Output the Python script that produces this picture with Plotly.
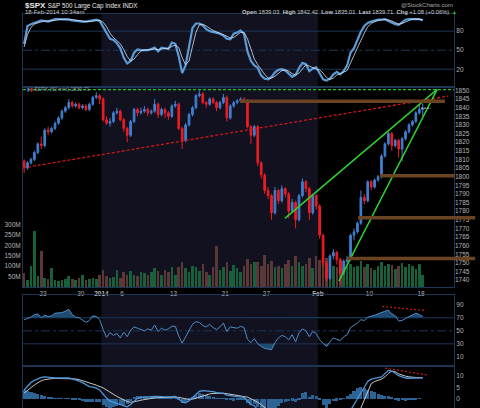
import plotly.graph_objects as go

# 60-min style chart of $SPX, Dec 19 2013 .. Feb 18 2014 10:34am
# bars are session thirds (Dec 24 half day has two), index 0..116
first_open = 1809
closes = [1805, 1808, 1810, 1814, 1819, 1818, 1827, 1826, 1828, 1831,
          1834, 1838, 1840, 1843, 1841, 1842, 1840, 1841, 1839, 1842,
          1846, 1847, 1845, 1833, 1831, 1832, 1837, 1838, 1833, 1828,
          1824, 1832, 1839, 1837, 1838, 1839, 1837, 1838, 1842, 1836,
          1839, 1837, 1835, 1841, 1842, 1828, 1821, 1830, 1836, 1840,
          1847, 1848, 1843, 1842, 1845, 1843, 1840, 1843, 1846, 1834,
          1841, 1843, 1844, 1845, 1844, 1829, 1824, 1829, 1808, 1801,
          1792, 1789, 1779, 1792, 1786, 1793, 1790, 1780, 1785, 1775,
          1789, 1797, 1793, 1779, 1789, 1783, 1766, 1750, 1741, 1754,
          1756, 1752, 1744, 1751, 1752, 1766, 1768, 1773, 1788, 1786,
          1797, 1794, 1798, 1800, 1812, 1819, 1825, 1818, 1821, 1816,
          1822, 1826, 1830, 1832, 1837, 1839, 1839.71]
highs = [1810, 1809, 1811, 1815, 1820, 1823, 1828, 1829, 1829, 1832,
         1835, 1839, 1841, 1845, 1844, 1843, 1843, 1842, 1842, 1843,
         1847, 1849, 1848, 1846, 1835, 1834, 1838, 1840, 1839, 1834,
         1829, 1833, 1840, 1840, 1840, 1841, 1840, 1839, 1845, 1843,
         1840, 1840, 1838, 1842, 1844, 1843, 1829, 1831, 1837, 1841,
         1848, 1850, 1849, 1844, 1846, 1846, 1844, 1844, 1848, 1847,
         1842, 1844, 1845, 1846, 1846, 1845, 1830, 1830, 1830, 1809,
         1802, 1794, 1790, 1794, 1793, 1795, 1794, 1791, 1787, 1786,
         1790, 1799, 1798, 1794, 1790, 1790, 1784, 1767, 1751, 1755,
         1758, 1757, 1753, 1752, 1754, 1767, 1770, 1774, 1792, 1790,
         1798, 1798, 1799, 1801, 1813, 1820, 1826, 1826, 1822, 1822,
         1823, 1827, 1831, 1833, 1838, 1842, 1842.42]
lows = [1802, 1804, 1807, 1809, 1813, 1816, 1817, 1824, 1825, 1827,
        1830, 1833, 1837, 1839, 1840, 1840, 1839, 1839, 1838, 1838,
        1841, 1845, 1842, 1832, 1830, 1829, 1831, 1836, 1832, 1826,
        1820, 1823, 1831, 1835, 1836, 1837, 1835, 1836, 1837, 1834,
        1835, 1834, 1833, 1834, 1840, 1827, 1816, 1820, 1829, 1835,
        1839, 1846, 1842, 1840, 1841, 1842, 1838, 1839, 1842, 1832,
        1833, 1840, 1842, 1843, 1843, 1828, 1819, 1823, 1806, 1799,
        1790, 1787, 1775, 1778, 1784, 1785, 1788, 1776, 1779, 1770,
        1774, 1788, 1791, 1775, 1778, 1781, 1764, 1748, 1739, 1740,
        1752, 1749, 1738, 1743, 1749, 1751, 1763, 1767, 1772, 1784,
        1785, 1792, 1793, 1797, 1799, 1811, 1818, 1815, 1817, 1811,
        1809, 1821, 1825, 1829, 1831, 1836, 1835.01]
volumes_m = [65, 35, 100, 270, 55, 175, 45, 40, 90, 35,
             30, 35, 40, 55, 40, 35, 45, 58, 35, 40,
             45, 40, 60, 80, 55, 45, 50, 80, 45, 70,
             60, 75, 60, 55, 70, 65, 60, 70, 90, 75,
             60, 80, 70, 95, 60, 95, 120, 90, 70, 100,
             95, 75, 110, 70, 60, 95, 195, 80, 95, 120,
             75, 105, 90, 70, 100, 135, 110, 120, 120, 100,
             155, 110, 125, 95, 100, 90, 110, 130, 100, 147,
             120, 100, 110, 140, 90, 150, 130, 125, 140, 140,
             100, 95, 130, 90, 105, 110, 95, 100, 125, 95,
             110, 90, 80, 100, 120, 100, 110, 105, 85, 100,
             115, 95, 110, 100, 85, 110, 60]

stoch_k = [60, 88, 91, 93, 95, 97, 96, 95, 97, 99,
           99, 99, 99, 98, 97, 96, 95, 95, 95, 96,
           98, 98, 96, 87, 77, 68, 66, 61, 53, 38,
           29, 33, 46, 51, 50, 50, 50, 52, 54, 48,
           54, 53, 52, 62, 60, 40, 14, 26, 58, 85,
           92, 92, 89, 83, 80, 79, 77, 76, 73, 68,
           67, 76, 78, 81, 76, 48, 33, 26, 22, 10,
           5, 4, 8, 15, 19, 20, 18, 13, 8, 11,
           22, 30, 28, 17, 21, 23, 14, 4, 2, 5,
           12, 16, 12, 17, 26, 46, 53, 65, 79, 88,
           93, 95, 97, 98, 98, 99, 96, 93, 91, 90,
           94, 98, 99, 99, 99, 99, 97]
stoch_d = [55, 75, 86, 91, 93, 95, 96, 96, 96, 97,
           98, 99, 99, 99, 98, 97, 96, 95, 95, 95,
           96, 97, 97, 94, 87, 77, 70, 65, 60, 51,
           40, 33, 36, 43, 49, 50, 50, 51, 52, 51,
           52, 52, 53, 56, 58, 54, 38, 27, 33, 56,
           78, 90, 91, 88, 84, 81, 79, 77, 75, 72,
           69, 70, 74, 78, 78, 68, 52, 36, 27, 19,
           12, 6, 6, 9, 14, 18, 19, 17, 13, 11,
           14, 21, 27, 25, 22, 20, 19, 14, 7, 4,
           6, 11, 13, 15, 18, 30, 42, 55, 66, 77,
           87, 92, 95, 97, 98, 98, 98, 96, 93, 91,
           92, 94, 97, 99, 99, 99, 98]

rsi = [67, 69, 71, 75, 76, 70, 74, 72, 73, 77,
       77, 78, 80, 83, 75, 71, 70, 67, 63, 66,
       73, 72, 67, 52, 40, 47, 43, 46, 39, 48,
       41, 51, 56, 54, 52, 50, 53, 51, 59, 49,
       54, 51, 53, 57, 57, 42, 31, 40, 51, 60,
       64, 63, 58, 56, 60, 55, 52, 56, 62, 49,
       56, 55, 54, 57, 55, 37, 32, 38, 30, 26,
       23, 22, 21, 32, 39, 43, 41, 36, 44, 33,
       47, 53, 50, 41, 49, 46, 36, 31, 26, 33,
       39, 37, 35, 41, 44, 55, 58, 62, 67, 66,
       71, 72, 74, 76, 78, 80, 82, 76, 73, 65,
       66, 69, 72, 74, 77, 75, 72]

macd = [3.8, 5.5, 7, 8, 8.8, 9.3, 9.5, 9.5, 9.2, 9,
        9, 9, 9, 9, 8.6, 8.2, 7.6, 7, 6, 5.3,
        5, 4.6, 3.8, 2, 0.3, -1, -1.5, -2, -2.5, -3,
        -3.5, -2.5, -1, 0.2, 0.6, 0.8, 0.9, 0.9, 1, 0.8,
        0.9, 0.8, 0.7, 0.9, 1, 0, -1.5, -1.8, -0.8, 0.5,
        2, 3.2, 3.5, 3.4, 3.3, 3.1, 2.7, 2.5, 2.3, 1.6,
        1.3, 1, 0.9, 0.8, 0.6, -1, -2.5, -3, -5, -7,
        -9, -11, -13, -12, -12, -11, -11, -11, -11, -12,
        -11, -9, -8, -9, -8, -8, -10, -13, -15, -14,
        -13, -13, -13, -12, -11, -5, -2.5, 0.3, 2.5, 5,
        7.5, 8.5, 9, 9.2, 9.5, 11, 12.3, 12, 11, 10,
        9.5, 9, 8.9, 8.9, 9, 9.2, 9.1]
macd_signal = [2.5, 3.5, 4.8, 6, 7, 7.8, 8.3, 8.6, 8.7, 8.8,
               8.8, 8.9, 8.9, 8.9, 8.8, 8.6, 8.3, 7.9, 7.4, 6.9,
               6.4, 5.9, 5.4, 4.7, 3.8, 2.8, 1.9, 1, 0.3, -0.5,
               -1.2, -1.5, -1.4, -1, -0.6, -0.3, 0, 0.2, 0.4, 0.5,
               0.6, 0.6, 0.6, 0.7, 0.7, 0.6, 0.2, -0.2, -0.3, -0.2,
               0.3, 0.9, 1.4, 1.8, 2.1, 2.3, 2.4, 2.4, 2.4, 2.2,
               2, 1.8, 1.6, 1.4, 1.2, 0.7, 0, -0.6, -1.5, -2.6,
               -3.9, -5.3, -6.8, -7.9, -8.8, -9.3, -9.7, -10, -10.2, -10.6,
               -10.7, -10.4, -10, -9.8, -9.5, -9.2, -9.4, -10.1, -11.1, -11.7,
               -12, -12.2, -12.4, -12.3, -12, -11, -9.5, -7.5, -4, -0.5,
               3.5, 6.5, 7.5, 8, 8.5, 9.5, 11, 12, 11.7, 10.8,
               10.2, 9.8, 9.5, 9.3, 9.2, 9.1, 9.1]
macd_hist = [3.8, 3.4, 3.0, 2.5, 2.0, 1.6, 1.2, 0.9, 0.5, 0.3,
             0.2, 0.1, 0.1, 0.1, -0.2, -0.4, -0.7, -0.9, -1.4, -1.6,
             -1.4, -1.3, -1.6, -2.7, -3.5, -3.8, -3.4, -3.0, -2.8, -2.5,
             -2.3, -1.0, 0.4, 1.2, 1.2, 1.1, 0.9, 0.7, 0.6, 0.3,
             0.3, 0.2, 0.1, 0.2, 0.3, -0.6, -1.7, -1.6, -0.5, 0.7,
             1.7, 2.3, 2.1, 1.6, 1.2, 0.8, 0.3, 0.1, -0.1, -0.6,
             -0.7, -0.8, -0.7, -0.6, -0.6, -1.7, -2.5, -2.4, -3.5, -4.4,
             -5.1, -5.7, -6.2, -4.1, -3.2, -1.7, -1.3, -1.0, -0.8, -1.4,
             -0.3, 2.5, 3.0, 0.8, 1.5, 1.2, -0.6, -2.9, -3.9, -2.3,
             -1.0, -0.8, -0.6, 0.3, 1.0, 2.0, 3.5, 4.5, 5.0, 4.5,
             4.0, 3.5, 2.8, 2.0, 1.5, 1.2, 1.0, 0.5, -0.3, -0.8,
             -0.7, -0.8, -0.6, -0.4, -0.2, 0.1, 0.0]

date_ticks = [5.5, 16.5, 22.5, 28.5, 43.5, 58.5, 70.5, 85.5, 100.5, 115.5]
date_labels = ['23', '30', '<b>2014</b>', '6', '13', '21', '27', '<b>Feb</b>', '10', '18']
jan_span = [22.5, 85.5]

support_levels = [1843.7, 1800.5, 1776.2, 1752.6]
support_start = [62.8, 103.6, 97.2, 94.0]
red_trend_x, red_trend_y = [-0.32, 123.4], [1805.1, 1846.7]
green_top_x, green_top_y = [75.9, 120.2], [1775.8, 1850.6]
green_low_x, green_low_y = [91.6, 120.2], [1739.4, 1850.6]
rsi_div_x, rsi_div_y = [104.2, 116.7], [87.4, 81.2]
macd_div_x, macd_div_y = [105.1, 117.3], [13.3, 10.3]
breakout_level = 1850.5
last_price = 1839.71

idx = list(range(len(closes)))
opens = [first_open] + closes[:-1]
XR = [-0.32, 125.1]

BLUE = '#3f80d0'
RED = '#ee1c24'
GRID = '#1d3658'
TXT = '#b4b4b4'
FONT = 'Liberation Sans, Arial, sans-serif'

fig = go.Figure()

# top panel: stochastics
fig.add_trace(go.Scatter(x=idx, y=stoch_k, mode='lines', line=dict(color='#5b9bd5', width=2.2),
                         xaxis='x', yaxis='y', hoverinfo='skip'))
fig.add_trace(go.Scatter(x=idx, y=stoch_d, mode='lines', line=dict(color='#d5e2ef', width=0.8),
                         xaxis='x', yaxis='y', hoverinfo='skip'))

# main panel: volume underneath, price on top
vol_colors = ['#17603a' if c >= o else '#5a3838' for o, c in zip(opens, closes)]
fig.add_trace(go.Bar(x=idx, y=volumes_m, marker=dict(color=vol_colors, line_width=0), width=0.75,
                     xaxis='x2', yaxis='y2', hoverinfo='skip'))
fig.add_trace(go.Candlestick(x=idx, open=opens, high=highs, low=lows, close=closes,
                             increasing=dict(line=dict(color=BLUE, width=1), fillcolor=BLUE),
                             decreasing=dict(line=dict(color=RED, width=1), fillcolor=RED),
                             whiskerwidth=0, xaxis='x2', yaxis='y3', hoverinfo='skip'))
fig.add_trace(go.Scatter(x=red_trend_x, y=red_trend_y, mode='lines',
                         line=dict(color='#d01818', width=1.3, dash='3px,2px'), xaxis='x2', yaxis='y3'))
for gx, gy in [(green_top_x, green_top_y), (green_low_x, green_low_y)]:
    fig.add_trace(go.Scatter(x=gx, y=gy, mode='lines', line=dict(color='#2ed12e', width=1.5),
                             xaxis='x2', yaxis='y3'))

# RSI panel
fig.add_trace(go.Scatter(x=idx, y=[70] * len(idx), mode='lines', line=dict(width=0),
                         xaxis='x3', yaxis='y4', hoverinfo='skip'))
fig.add_trace(go.Scatter(x=idx, y=[max(v, 70) for v in rsi], mode='lines', line=dict(width=0),
                         fill='tonexty', fillcolor='#1f4b72', xaxis='x3', yaxis='y4', hoverinfo='skip'))
fig.add_trace(go.Scatter(x=idx, y=[30] * len(idx), mode='lines', line=dict(width=0),
                         xaxis='x3', yaxis='y4', hoverinfo='skip'))
fig.add_trace(go.Scatter(x=idx, y=[min(v, 30) for v in rsi], mode='lines', line=dict(width=0),
                         fill='tonexty', fillcolor='#1f4b72', xaxis='x3', yaxis='y4', hoverinfo='skip'))
fig.add_trace(go.Scatter(x=idx, y=rsi, mode='lines', line=dict(color='#4f8cc4', width=1),
                         xaxis='x3', yaxis='y4', hoverinfo='skip'))
fig.add_trace(go.Scatter(x=rsi_div_x, y=rsi_div_y, mode='lines',
                         line=dict(color='#d01818', width=1.2, dash='2px,2px'), xaxis='x3', yaxis='y4'))

# MACD panel
fig.add_trace(go.Bar(x=idx, y=macd_hist, marker=dict(color='#2c6496', line_width=0), width=0.9,
                     xaxis='x4', yaxis='y5', hoverinfo='skip'))
fig.add_trace(go.Scatter(x=idx, y=macd_signal, mode='lines', line=dict(color='#c8c8c8', width=1),
                         xaxis='x4', yaxis='y5', hoverinfo='skip'))
fig.add_trace(go.Scatter(x=idx, y=macd, mode='lines', line=dict(color='#4f97d8', width=1.3),
                         xaxis='x4', yaxis='y5', hoverinfo='skip'))
fig.add_trace(go.Scatter(x=macd_div_x, y=macd_div_y, mode='lines',
                         line=dict(color='#d01818', width=1.2, dash='2px,2px'), xaxis='x4', yaxis='y5'))

shapes = []
# January shading in every panel
for xr, yr in [('x', 'y domain'), ('x2', 'y2 domain'), ('x3', 'y4 domain'), ('x4', 'y5 domain')]:
    shapes.append(dict(type='rect', xref=xr, yref=yr, x0=jan_span[0], x1=jan_span[1], y0=0, y1=1,
                       fillcolor='#111120', line_width=0, layer='below'))
# indicator guide lines
for lvl, dash in [(80, 'solid'), (50, 'dashdot'), (20, 'solid')]:
    shapes.append(dict(type='line', xref='x domain', yref='y', x0=0, x1=1, y0=lvl, y1=lvl,
                       line=dict(color=GRID, width=1, dash=dash), layer='below'))
for lvl, dash in [(70, 'solid'), (50, 'dashdot'), (30, 'solid')]:
    shapes.append(dict(type='line', xref='x3 domain', yref='y4', x0=0, x1=1, y0=lvl, y1=lvl,
                       line=dict(color=GRID, width=1, dash=dash), layer='below'))
# support / resistance bands
span = XR[1] - XR[0]
ends = [0.979, 1.002, 1.049, 1.049]
for lvl, st, en in zip(support_levels, support_start, ends):
    shapes.append(dict(type='line', xref='paper', yref='y3', x0=(st - XR[0]) / span, x1=en,
                       y0=lvl, y1=lvl, line=dict(color='#6a4422', width=3.5)))
shapes.append(dict(type='line', xref='x2 domain', yref='y3', x0=0, x1=1, y0=breakout_level, y1=breakout_level,
                   line=dict(color='#22c322', width=1.2, dash='3px,2px')))
shapes.append(dict(type='line', xref='x2', yref='y3', x0=115.5, x1=118.3, y0=last_price, y1=last_price,
                   line=dict(color='#c8c8c8', width=1, dash='2px,1px')))

ax_common = dict(showgrid=False, zeroline=False, showline=True, linecolor=GRID, linewidth=1, mirror=True,
                 range=XR, showticklabels=False, ticks='')
tick_font = dict(size=6.5, color=TXT, family=FONT)

fig.update_layout(
    width=480, height=408,
    margin=dict(l=23, r=26, t=14, b=0),
    paper_bgcolor='#000000', plot_bgcolor='#000000',
    showlegend=False, bargap=0,
    xaxis=dict(anchor='y', **ax_common),
    xaxis2=dict(anchor='y2', **{**ax_common, 'showticklabels': True}, tickmode='array',
                tickvals=date_ticks, ticktext=date_labels, tickfont=tick_font),
    xaxis3=dict(anchor='y4', **ax_common),
    xaxis4=dict(anchor='y5', **ax_common),
    yaxis=dict(domain=[0.8147, 1.0], range=[-8, 107], side='right', anchor='x', tickvals=[20, 50, 80],
               tickfont=tick_font, showgrid=False, zeroline=False, showline=True, linecolor=GRID, mirror=True),
    yaxis2=dict(domain=[0.3071, 0.8147], range=[0, 962], side='left', anchor='x2',
                tickvals=[50, 100, 150, 200, 250, 300],
                ticktext=['50M', '100M', '150M', '200M', '250M', '300M'],
                tickfont=tick_font, showgrid=False, zeroline=False, showline=True, linecolor=GRID, mirror=True),
    yaxis3=dict(overlaying='y2', range=[1736, 1852], side='right', anchor='x2',
                tickvals=list(range(1740, 1851, 5)), tickfont=tick_font, showgrid=False, zeroline=False),
    yaxis4=dict(domain=[0.1066, 0.2868], range=[-4, 105], side='right', anchor='x3',
                tickvals=[10, 30, 50, 70, 90], tickfont=tick_font, showgrid=False, zeroline=False,
                showline=True, linecolor=GRID, mirror=True),
    yaxis5=dict(domain=[0, 0.1066], range=[-4, 14.2], side='right', anchor='x4',
                tickvals=[0, 5, 10], tickfont=tick_font, showgrid=False, zeroline=False,
                showline=True, linecolor=GRID, mirror=True),
    shapes=shapes,
)
fig.update_xaxes(rangeslider_visible=False)

H = 394.0  # plot height in px (408 - top margin)
def py(ypx):
    return (408 - ypx) / H

notes = [
    dict(x=0, y=py(5), xanchor='left', text="<b>$SPX</b> <span style='font-size:6.3px'>S&P 500 Large Cap Index INDX</span>",
         font=dict(size=8, color='#e8e8e8', family=FONT)),
    dict(x=0, y=py(11.8), xanchor='left', text='18-Feb-2014 10:34am',
         font=dict(size=6, color='#c8c8c8', family=FONT)),
    dict(x=1.003, y=py(5), xanchor='right', text='@StockCharts.com',
         font=dict(size=6, color='#a8a8a8', family=FONT)),
    dict(x=0.993, y=py(11.8), xanchor='right',
         text='<b>Open</b> 1839.03  <b>High</b> 1842.42  <b>Low</b> 1835.01  <b>Last</b> 1839.71  <b>Chg</b> +1.08 (+0.06%)',
         font=dict(size=5.8, color='#c8c8c8', family=FONT)),
    dict(x=1.002, y=py(12), xanchor='center', text='▲', font=dict(size=5, color='#22c322', family=FONT)),
    dict(x=0.004, y=py(88.6), xanchor='left',
         text="<span style='color:#3f80d0'>▮</span><span style='color:#ee1c24'>▮</span> $SPX (60 min) 1839.71",
         font=dict(size=5.3, color='#8c99a6', family=FONT)),
]
for n in notes:
    fig.add_annotation(xref='paper', yref='paper', yanchor='middle', showarrow=False, **n)

# page body margin would push the 480x408 figure off the window
fig.write_html("out.html", config={'displayModeBar': False},
               post_script="document.body.style.margin='0';document.body.style.background='#000';")
